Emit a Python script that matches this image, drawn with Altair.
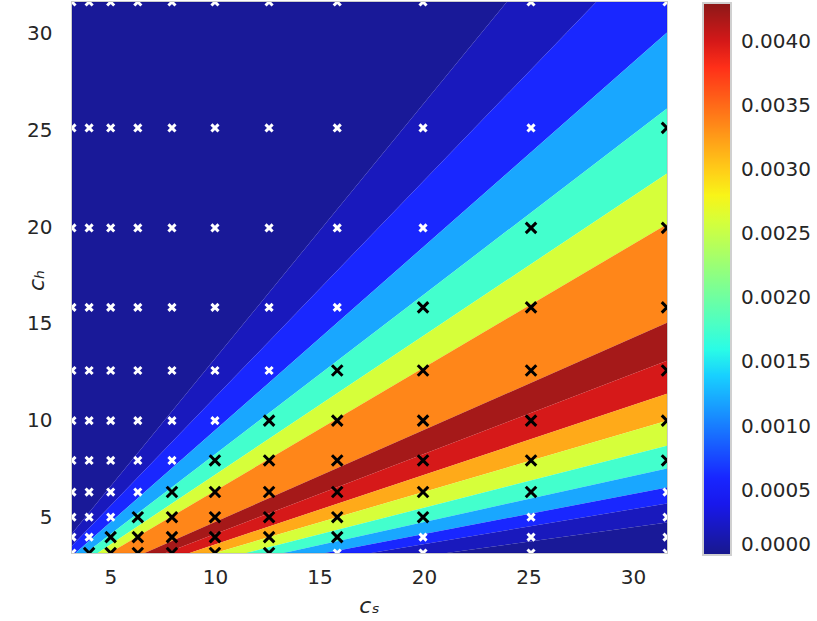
import altair as alt
import pandas as pd

# log-spaced sample grid used for both c_s and c_h
grid = [3.162, 3.981, 5.012, 6.310, 7.943, 10.0, 12.589, 15.849, 19.953, 25.119, 31.623]

# marker colour for each grid point, top row (c_h = 31.6) first; b = black, w = white
marker_rows = [
    "wwwwwwwwwww",  # 31.6
    "wwwwwwwwwwb",  # 25.1
    "wwwwwwwwwbb",  # 20.0
    "wwwwwwwwbbb",  # 15.8
    "wwwwwwwbbbb",  # 12.6
    "wwwwwwbbbbb",  # 10.0
    "wwwwwbbbbbb",  # 7.9
    "wwwwbbbbbbw",  # 6.3
    "wwwbbbbbbww",  # 5.0
    "wwbbbbbbwww",  # 4.0
    "wbbbbbbwwww",  # 3.16
]

# contour band boundaries, expressed as c_h / c_s, from top-left to bottom-right
band_edges = [1.32, 1.12, 0.95, 0.826, 0.72, 0.637, 0.476, 0.414, 0.36,
              0.316, 0.275, 0.238, 0.207, 0.181, 0.15]
# value of each band (one more than the boundaries)
band_levels = [0.00005, 0.0002, 0.0006, 0.0012, 0.00175, 0.0026, 0.00336,
               0.0042, 0.0040, 0.00318, 0.0026, 0.00175, 0.0012, 0.0006,
               0.0002, 0.00005]

legend_ticks = [0.0, 0.0005, 0.001, 0.0015, 0.002, 0.0025, 0.003, 0.0035, 0.004]
x_ticks = [5, 10, 15, 20, 25, 30]
y_ticks = [5, 10, 15, 20, 25, 30]
cmax = 0.0043

# jet colormap knots
jet_t = [0, 0.11, 0.125, 0.34, 0.35, 0.375, 0.64, 0.65, 0.66, 0.89, 0.91, 1.0]
jet_c = ["#000080", "#0000ff", "#0000ff", "#00dbff", "#00e6f7", "#15ffe2",
         "#efff08", "#f7f500", "#ffec00", "#ff1300", "#e80000", "#800000"]

# ---- tables ----
hi = [20.0] + band_edges
lo = band_edges + [0.0]
xmin, xmax = grid[0], grid[-1]
rows = []
for k in range(len(band_levels)):
    for xv in (xmin, xmax):
        rows.append({"band": k, "cs": xv, "lo": lo[k] * xv, "hi": hi[k] * xv,
                     "level": band_levels[k]})
bands = pd.DataFrame(rows)

pts = []
for r, line in enumerate(marker_rows):
    yv = grid[len(grid) - 1 - r]
    for i, ch in enumerate(line):
        pts.append({"cs": grid[i], "ch": yv, "mc": ch})
points = pd.DataFrame(pts)

FONT = "DejaVu Sans"
TXT = "#262626"

xscale = alt.Scale(domain=[xmin, xmax], nice=False, zero=False)
yscale = alt.Scale(domain=[xmin, xmax], nice=False, zero=False)

xaxis = alt.Axis(values=x_ticks, title="cₛ", grid=False, ticks=False, domain=False,
                 tickSize=0, labelPadding=14, labelFontSize=20,
                 titleFontSize=22, titleFontStyle="italic", titleFontWeight="normal",
                 titleX=297, titleY=52, titleBaseline="middle", titleAlign="center",
                 labelColor=TXT, titleColor=TXT, labelFont=FONT, titleFont=FONT)
yaxis = alt.Axis(values=y_ticks, title="cₕ", grid=False, ticks=False, domain=False,
                 tickSize=0, labelPadding=20, labelFontSize=20,
                 titleFontSize=22, titleFontStyle="italic", titleFontWeight="normal",
                 titleX=-36, titleY=278, titleBaseline="middle", titleAlign="center",
                 titleAngle=270,
                 labelColor=TXT, titleColor=TXT, labelFont=FONT, titleFont=FONT)

color_scale = alt.Scale(domain=[t * cmax for t in jet_t], range=jet_c,
                        interpolate="rgb")

areas = alt.Chart(bands).mark_area(clip=True, opacity=0.9).encode(
    x=alt.X("cs:Q", scale=xscale, axis=xaxis),
    y=alt.Y("lo:Q", scale=yscale, axis=yaxis),
    y2="hi:Q",
    detail="band:N",
    color=alt.Color(
        "level:Q", scale=color_scale, title=None,
        legend=alt.Legend(orient="none", legendX=631, legendY=1, direction="vertical",
                          gradientLength=552, gradientThickness=28,
                          values=legend_ticks, format=".4f", labelFontSize=20,
                          labelColor=TXT, labelFont=FONT, labelOffset=10,
                          gradientStrokeColor="#cccccc", gradientStrokeWidth=2,
                          padding=0, labelOverlap=False, labelBaseline="middle"),
    ),
)

XSHAPE = "M-1,-1L1,1M-1,1L1,-1"
white_pts = alt.Chart(points).transform_filter(alt.datum.mc == "w").mark_point(
    shape=XSHAPE, filled=False, stroke="white", strokeWidth=3, size=50, clip=True,
    opacity=1
).encode(x=alt.X("cs:Q", scale=xscale), y=alt.Y("ch:Q", scale=yscale))

black_pts = alt.Chart(points).transform_filter(alt.datum.mc == "b").mark_point(
    shape=XSHAPE, filled=False, stroke="black", strokeWidth=3, size=110, clip=True,
    opacity=1
).encode(x=alt.X("cs:Q", scale=xscale), y=alt.Y("ch:Q", scale=yscale))

chart = alt.layer(areas, white_pts, black_pts).properties(
    width=595, height=551,
    autosize=alt.AutoSizeParams(type="none"),
    padding={"left": 72, "top": 2, "right": 150, "bottom": 68},
    background="white",
).configure_view(stroke="#cccccc", strokeWidth=2)

chart.save("out.html", embed_options={"renderer": "svg", "actions": False})
